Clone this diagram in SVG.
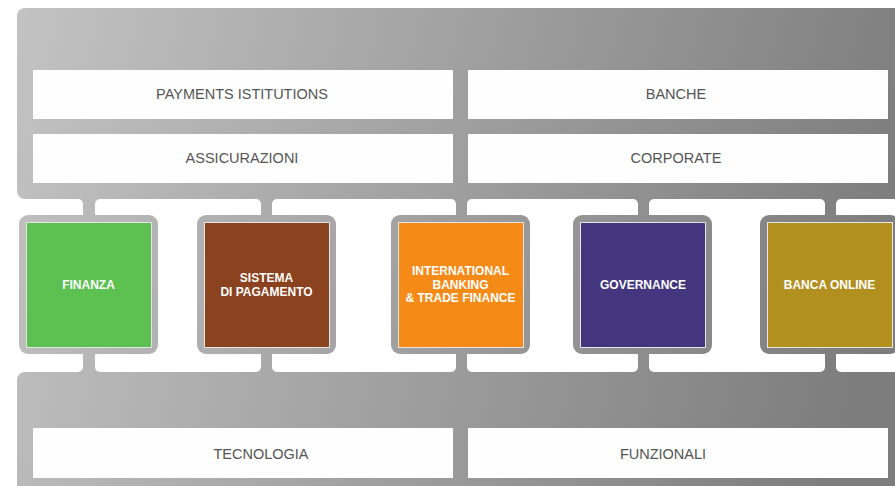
<svg xmlns="http://www.w3.org/2000/svg" width="895" height="486" viewBox="0 0 895 486">
<defs>
<linearGradient id="g" gradientUnits="userSpaceOnUse" x1="0" y1="0" x2="895" y2="220">
<stop offset="0" stop-color="#c4c4c4"/>
<stop offset="1" stop-color="#7d7d7d"/>
</linearGradient>
<style>
.band{fill:url(#g)}
.bar{fill:#fefefe}
.hole{fill:#ffffff}
.frame{fill:url(#g)}
.lbl{font-family:"Liberation Sans",Arial,sans-serif;font-size:14.5px;fill:#555555;text-anchor:middle}
.nt{font-family:"Liberation Sans",Arial,sans-serif;font-size:12px;font-weight:bold;fill:#ffffff;text-anchor:middle}
.inner{stroke:#e6e6e6;stroke-width:1}
</style>
</defs>
<rect width="895" height="486" fill="#ffffff"/>
<g id="structure">
<rect class="band" x="17" y="8" width="900" height="191" rx="8"/>
<rect class="band" x="25" y="190" width="880" height="190"/>
<rect class="band" x="17" y="372" width="900" height="130" rx="8"/>
</g>
<g id="connectors">
<rect class="hole" x="-10" y="199" width="93" height="173" rx="5"/>
<rect class="hole" x="95" y="199" width="166" height="173" rx="5"/>
<rect class="hole" x="272" y="199" width="184" height="173" rx="5"/>
<rect class="hole" x="467" y="199" width="171" height="173" rx="5"/>
<rect class="hole" x="649" y="199" width="176" height="173" rx="5"/>
<rect class="hole" x="836" y="199" width="80" height="173" rx="5"/>
</g>
<g id="payments"><rect class="bar" x="33" y="70" width="420" height="49"/><text class="lbl" x="242" y="99">PAYMENTS ISTITUTIONS</text></g>
<g id="banche"><rect class="bar" x="468" y="70" width="420" height="49"/><text class="lbl" x="676" y="99">BANCHE</text></g>
<g id="assicurazioni"><rect class="bar" x="33" y="134" width="420" height="49"/><text class="lbl" x="242" y="163">ASSICURAZIONI</text></g>
<g id="corporate"><rect class="bar" x="468" y="134" width="420" height="49"/><text class="lbl" x="676" y="163">CORPORATE</text></g>
<g id="tecnologia"><rect class="bar" x="33" y="428" width="420" height="50"/><text class="lbl" x="261" y="459">TECNOLOGIA</text></g>
<g id="funzionali"><rect class="bar" x="468" y="428" width="420" height="50"/><text class="lbl" x="663" y="459">FUNZIONALI</text></g>
<g id="finanza">
<rect class="frame" x="19" y="215" width="139" height="139" rx="9"/>
<rect class="inner" x="26.5" y="222.5" width="125" height="125" fill="#5cc151"/>
<text class="nt" x="88.5" y="289">FINANZA</text>
</g>
<g id="sistema">
<rect class="frame" x="197" y="215" width="139" height="139" rx="9"/>
<rect class="inner" x="204.5" y="222.5" width="125" height="125" fill="#8b421e"/>
<text class="nt" x="266.5" y="282">SISTEMA</text>
<text class="nt" x="266.5" y="296">DI PAGAMENTO</text>
</g>
<g id="international">
<rect class="frame" x="391" y="215" width="139" height="139" rx="9"/>
<rect class="inner" x="398.5" y="222.5" width="125" height="125" fill="#f58a17"/>
<text class="nt" x="460.5" y="275">INTERNATIONAL</text>
<text class="nt" x="460.5" y="289">BANKING</text>
<text class="nt" x="460.5" y="302">&amp; TRADE FINANCE</text>
</g>
<g id="governance">
<rect class="frame" x="573" y="215" width="139" height="139" rx="9"/>
<rect class="inner" x="580.5" y="222.5" width="125" height="125" fill="#44367e"/>
<text class="nt" x="643" y="289">GOVERNANCE</text>
</g>
<g id="banca-online">
<rect class="frame" x="760" y="215" width="139" height="139" rx="9"/>
<rect class="inner" x="767.5" y="222.5" width="125" height="125" fill="#b29020"/>
<text class="nt" x="829.5" y="289">BANCA ONLINE</text>
</g>
</svg>
